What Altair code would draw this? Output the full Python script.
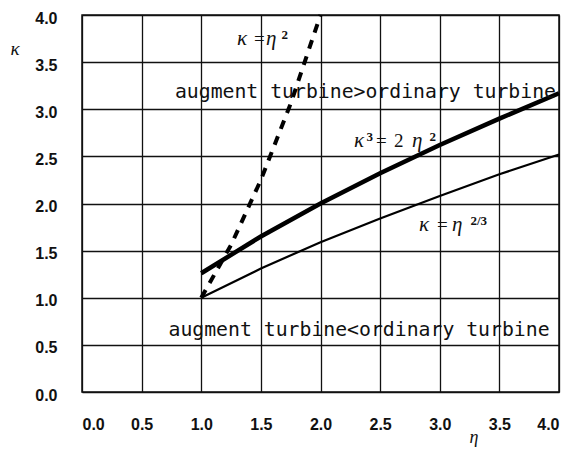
import altair as alt
import pandas as pd

# curve values
eta_mid = [1.0, 1.5, 2.0, 2.5, 3.0, 3.5, 4.0]
kappa_mid = [1.26, 1.65, 2.0, 2.32, 2.62, 2.9, 3.17]      # kappa^3 = 2 eta^2
eta_low = [1.0, 1.5, 2.0, 2.5, 3.0, 3.5, 4.0]
kappa_low = [1.0, 1.31, 1.59, 1.84, 2.08, 2.31, 2.52]     # kappa = eta^(2/3)
eta_sq = [1.0, 1.25, 1.5, 1.75, 2.0]
kappa_sq = [1.0, 1.56, 2.25, 3.06, 4.0]                   # kappa = eta^2

tick_vals = [0.0, 0.5, 1.0, 1.5, 2.0, 2.5, 3.0, 3.5, 4.0]

# annotations (text, eta, kappa)
region_texts = ["augment turbine>ordinary turbine", "augment turbine<ordinary turbine"]
region_eta = [2.377, 2.323]
region_kappa = [3.119, 0.594]

italic_texts = ["κ", "η", "κ", "η", "κ", "η"]
italic_eta = [1.300, 1.543, 2.281, 2.768, 2.826, 3.103]
italic_kappa = [3.682, 3.682, 2.599, 2.599, 1.708, 1.708]

upright_texts = ["=", "=", "2", "="]
upright_eta = [1.442, 2.465, 2.616, 2.977]
upright_kappa = [3.682, 2.599, 2.599, 1.708]

sup_texts = ["2", "3", "2", "2/3"]
sup_eta = [1.672, 2.385, 2.913, 3.257]
sup_kappa = [3.745, 2.663, 2.663, 1.771]

W, H = 477, 377
xs = alt.Scale(domain=[0, 4], nice=False, zero=False)
ys = alt.Scale(domain=[0, 4], nice=False, zero=False)

lab = dict(labelFont="Liberation Sans", labelFontWeight="bold", labelFontSize=16,
           labelColor="#111", grid=True, gridColor="#111", gridWidth=1.3,
           domain=False, ticks=False, values=tick_vals, format=".1f")

xaxis = alt.Axis(title="η", titleFont="Liberation Serif", titleFontStyle="italic",
                 titleFontSize=18, titleFontWeight="normal", titleX=387, titleY=50,
                 titleAnchor="start", titleBaseline="alphabetic", titleColor="#111",
                 labelPadding=24, **lab)
yaxis = alt.Axis(title="κ", titleFont="Liberation Serif", titleFontStyle="italic",
                 titleFontSize=19, titleFontWeight="normal", titleAngle=0,
                 titleX=-72, titleY=43, titleAlign="left", titleColor="#111",
                 labelPadding=25, labelBaseline="middle", labelOffset=3, **lab)

d_mid = pd.DataFrame({"eta": eta_mid, "kappa": kappa_mid})
d_low = pd.DataFrame({"eta": eta_low, "kappa": kappa_low})
d_sq = pd.DataFrame({"eta": eta_sq, "kappa": kappa_sq})

base_grid = alt.Chart(d_mid).mark_point(opacity=0).encode(
    x=alt.X("eta:Q", scale=xs, axis=xaxis),
    y=alt.Y("kappa:Q", scale=ys, axis=yaxis),
)

line_mid = alt.Chart(d_mid).mark_line(color="#000", strokeWidth=4.5).encode(
    x=alt.X("eta:Q", scale=xs), y=alt.Y("kappa:Q", scale=ys))
line_low = alt.Chart(d_low).mark_line(color="#000", strokeWidth=2.2).encode(
    x=alt.X("eta:Q", scale=xs), y=alt.Y("kappa:Q", scale=ys))
line_sq = alt.Chart(d_sq).mark_line(color="#000", strokeWidth=4, strokeDash=[9, 8]).encode(
    x=alt.X("eta:Q", scale=xs), y=alt.Y("kappa:Q", scale=ys))

d_region = pd.DataFrame({"t": region_texts, "eta": region_eta, "kappa": region_kappa})
d_ital = pd.DataFrame({"t": italic_texts, "eta": italic_eta, "kappa": italic_kappa})
d_up = pd.DataFrame({"t": upright_texts, "eta": upright_eta, "kappa": upright_kappa})
d_sup = pd.DataFrame({"t": sup_texts, "eta": sup_eta, "kappa": sup_kappa})

def txt(df, **kw):
    return alt.Chart(df).mark_text(align="left", baseline="alphabetic",
                                   color="#111", **kw).encode(
        x=alt.X("eta:Q", scale=xs), y=alt.Y("kappa:Q", scale=ys), text="t:N")

region = alt.Chart(d_region).mark_text(
    font="DejaVu Sans Mono", fontSize=19.8, align="center", baseline="alphabetic",
    color="#111").encode(
    x=alt.X("eta:Q", scale=xs), y=alt.Y("kappa:Q", scale=ys), text="t:N")
ital = txt(d_ital, font="Liberation Serif", fontStyle="italic", fontSize=21)
up = txt(d_up, font="Liberation Serif", fontSize=19)
sup = txt(d_sup, font="Liberation Serif", fontSize=13, fontWeight="bold")

chart = alt.layer(base_grid, line_low, line_mid, line_sq, region, ital, up, sup).properties(
    width=W, height=H,
    autosize=alt.AutoSizeParams(type="none"),
    padding={"left": 82, "top": 15, "right": 14, "bottom": 57},
    background="white",
).configure_view(stroke="#111", strokeWidth=1.5)

chart.save("out.html", embed_options={"renderer": "svg", "actions": False})
